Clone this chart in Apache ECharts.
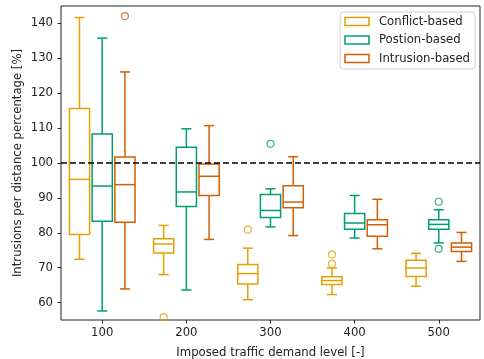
<!DOCTYPE html>
<html>
<head>
<meta charset="utf-8">
<script src="https://cdn.jsdelivr.net/npm/echarts@6/dist/echarts.min.js"></script>
<style>
html,body{margin:0;padding:0;background:#fff;}
#c{width:484px;height:359px;}
</style>
</head>
<body>
<div id="c"></div>
<script>
// ---- data ----
const levels = [100, 200, 300, 400, 500];
const seriesNames = ['Conflict-based', 'Postion-based', 'Intrusion-based'];
// [lowWhisker, Q1, median, Q3, highWhisker] per level
const conflictStats = [
  [72.4, 79.5, 95.3, 115.6, 141.7],
  [68.0, 74.2, 76.8, 78.3, 82.1],
  [60.8, 65.3, 68.3, 70.9, 75.6],
  [62.3, 65.2, 66.3, 67.4, 69.9],
  [64.7, 67.5, 69.9, 72.1, 74.1]
];
const positionStats = [
  [57.6, 83.3, 93.4, 108.3, 135.8],
  [63.6, 87.5, 91.7, 104.5, 109.8],
  [81.7, 84.4, 86.4, 91.0, 92.6],
  [78.5, 81.0, 82.8, 85.5, 90.7],
  [77.1, 81.0, 82.4, 83.7, 86.6]
];
const intrusionStats = [
  [63.9, 83.0, 93.8, 101.7, 126.1],
  [78.1, 90.7, 96.2, 99.7, 110.7],
  [79.2, 87.2, 88.8, 93.5, 101.8],
  [75.4, 79.0, 82.3, 83.7, 89.6],
  [71.8, 74.6, 75.9, 77.1, 80.1]
];
// outliers: [level, value]
const conflictOutliers = [[200, 55.8], [300, 80.9], [400, 73.8], [400, 71.1]];
const positionOutliers = [[300, 105.5], [500, 88.9], [500, 75.4]];
const intrusionOutliers = [[100, 142.1]];
const yTicks = [60, 70, 80, 90, 100, 110, 120, 130, 140];
const xTicks = [100, 200, 300, 400, 500];
const refLine = 100;

// ---- layout / style ----
const colors = ['#E69F00', '#009E73', '#D55E00'];
const offsets = [-27, 0, 27];
const BOX_W = 24;
const LW = 1.5;
const FONT = 'DejaVu Sans';
const FS = 11.7;

function boxData(stats, off) {
  return stats.map((s, i) => [levels[i] + off].concat(s));
}
function outlierData(list, off) {
  return list.map(p => [p[0] + off, p[1]]);
}
function makeRender(color) {
  return function (params, api) {
    const x = api.value(0);
    const lo = api.coord([x, api.value(1)]);
    const q1 = api.coord([x, api.value(2)]);
    const md = api.coord([x, api.value(3)]);
    const q3 = api.coord([x, api.value(4)]);
    const hi = api.coord([x, api.value(5)]);
    const w = api.size([BOX_W, 0])[0];
    const cx = lo[0];
    const st = { stroke: color, lineWidth: LW, fill: 'transparent' };
    const cap = w / 4;
    return {
      type: 'group',
      children: [
        { type: 'line', shape: { x1: cx, y1: lo[1], x2: cx, y2: q1[1] }, style: st },
        { type: 'line', shape: { x1: cx, y1: q3[1], x2: cx, y2: hi[1] }, style: st },
        { type: 'line', shape: { x1: cx - cap, y1: lo[1], x2: cx + cap, y2: lo[1] }, style: st },
        { type: 'line', shape: { x1: cx - cap, y1: hi[1], x2: cx + cap, y2: hi[1] }, style: st },
        { type: 'rect', shape: { x: cx - w / 2, y: q3[1], width: w, height: q1[1] - q3[1] }, style: st },
        { type: 'line', shape: { x1: cx - w / 2, y1: md[1], x2: cx + w / 2, y2: md[1] }, style: st }
      ]
    };
  };
}

const allStats = [conflictStats, positionStats, intrusionStats];
const allOut = [conflictOutliers, positionOutliers, intrusionOutliers];
const series = [];
seriesNames.forEach((name, k) => {
  series.push({
    name: name,
    type: 'custom',
    renderItem: makeRender(colors[k]),
    data: boxData(allStats[k], offsets[k]),
    encode: { x: 0, y: [1, 2, 3, 4, 5] },
    itemStyle: { color: colors[k] },
    z: 2
  });
  series.push({
    name: name,
    type: 'scatter',
    data: outlierData(allOut[k], offsets[k]),
    symbol: 'circle',
    symbolSize: 7,
    itemStyle: { color: 'transparent', borderColor: colors[k], borderWidth: 1.2 },
    z: 2
  });
});
series[0].markLine = {
  silent: true,
  symbol: 'none',
  label: { show: false },
  lineStyle: { color: '#000', type: [6, 3], width: LW },
  data: [{ yAxis: refLine }],
  z: 5
};

const chart = echarts.init(document.getElementById('c'), null, { renderer: 'canvas' });
chart.setOption({
  animation: false,
  backgroundColor: '#fff',
  textStyle: { fontFamily: FONT },
  grid: { left: 61, right: 4, top: 6, bottom: 39, show: true, borderColor: '#222', borderWidth: 1, containLabel: false, outerBoundsMode: 'none' },
  legend: {
    right: 9, top: 12, orient: 'vertical',
    backgroundColor: 'rgba(255,255,255,0.8)', borderColor: '#d0d0d0', borderWidth: 1, borderRadius: 3,
    padding: [3, 5, 4, 4],
    itemWidth: 24, itemHeight: 8, itemGap: 5.5,
    textStyle: { fontFamily: FONT, fontSize: FS, color: '#222', lineHeight: 13, padding: [0, 0, 0, 5] },
    data: seriesNames.map((n, k) => ({
      name: n, icon: 'rect',
      itemStyle: { color: 'transparent', borderColor: colors[k], borderWidth: LW }
    }))
  },
  xAxis: {
    type: 'value', min: 51, max: 549,
    name: 'Imposed traffic demand level [-]', nameLocation: 'middle', nameGap: 27, nameMoveOverlap: false,
    nameTextStyle: { fontFamily: FONT, fontSize: FS, color: '#222' },
    axisLine: { show: false },
    axisTick: { show: true, length: 3.5, lineStyle: { color: '#222' }, customValues: xTicks },
    axisLabel: { fontFamily: FONT, fontSize: FS, color: '#222', margin: 7, customValues: xTicks },
    splitLine: { show: false }
  },
  yAxis: {
    type: 'value', min: 55, max: 145,
    name: 'Intrusions per distance percentage [%]', nameLocation: 'middle', nameGap: 37, nameRotate: 90, nameMoveOverlap: false,
    nameTextStyle: { fontFamily: FONT, fontSize: FS, color: '#222' },
    axisLine: { show: false },
    axisTick: { show: true, length: 3.5, lineStyle: { color: '#222' }, customValues: yTicks },
    axisLabel: { fontFamily: FONT, fontSize: FS, color: '#222', margin: 8, customValues: yTicks },
    splitLine: { show: false }
  },
  series: series
});
</script>
</body>
</html>
